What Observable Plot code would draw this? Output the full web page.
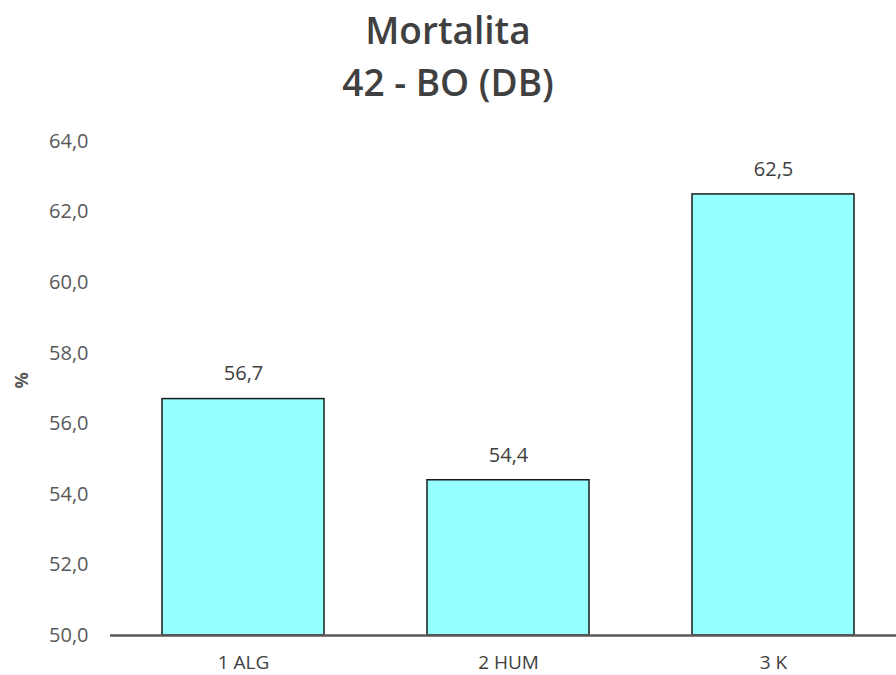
<!DOCTYPE html>
<html>
<head>
<meta charset="utf-8">
<script src="https://cdn.jsdelivr.net/npm/d3@7"></script>
<script src="https://cdn.jsdelivr.net/npm/@observablehq/plot@0.6"></script>
<style>
  html, body { margin: 0; padding: 0; background: #fff; overflow: hidden; width: 896px; height: 675px; }
  #title { height: 110px; text-align: center; font-family: "Open Sans", sans-serif; font-weight: 600; color: #404040; font-size: 37px; line-height: 52px; padding-top: 4px; box-sizing: border-box; }
  #chart svg { display: block; overflow: visible; }
</style>
</head>
<body>
<div id="title">Mortalita<br>42 - BO (DB)</div>
<div id="chart"></div>
<script>
const categories = ["1 ALG", "2 HUM", "3 K"];
const values = [56.7, 54.4, 62.5];
const yTicks = [50, 52, 54, 56, 58, 60, 62, 64];

const data = categories.map((c, i) => ({category: c, value: values[i]}));
const fmt = d => d.toFixed(1).replace(".", ",");

const chart = Plot.plot({
  width: 896,
  height: 565,
  marginLeft: 110,
  marginRight: -10.5,
  marginTop: 31,
  marginBottom: 40,
  style: {fontFamily: "Open Sans, sans-serif", fontSize: "19px", color: "#404040", background: "transparent"},
  x: {domain: categories, paddingInner: 0.39, paddingOuter: 0.195, label: null},
  y: {domain: [50, 64], label: "%"},
  marks: [
    Plot.axisY({ticks: yTicks, tickFormat: fmt, tickSize: 0, tickPadding: 22, label: null, fill: "#595959", fontSize: 20}),
    Plot.text(["%"], {frameAnchor: "left", dx: -88, rotate: -90, fill: "#595959", fontSize: 18, fontWeight: "bold"}),
    Plot.axisX({tickSize: 0, tickPadding: 20, fill: "#404040", fontSize: 19}),
    Plot.barY(data, {x: "category", y1: 50, y2: "value", fill: "#96FFFF", stroke: "#1a1a1a", strokeWidth: 1.5}),
    Plot.text(data, {x: "category", y: "value", text: d => fmt(d.value), dy: -25, fill: "#404040", fontSize: 20}),
    Plot.ruleY([50], {stroke: "#595959", strokeWidth: 2.5})
  ]
});
document.getElementById("chart").appendChild(chart);
</script>
</body>
</html>
